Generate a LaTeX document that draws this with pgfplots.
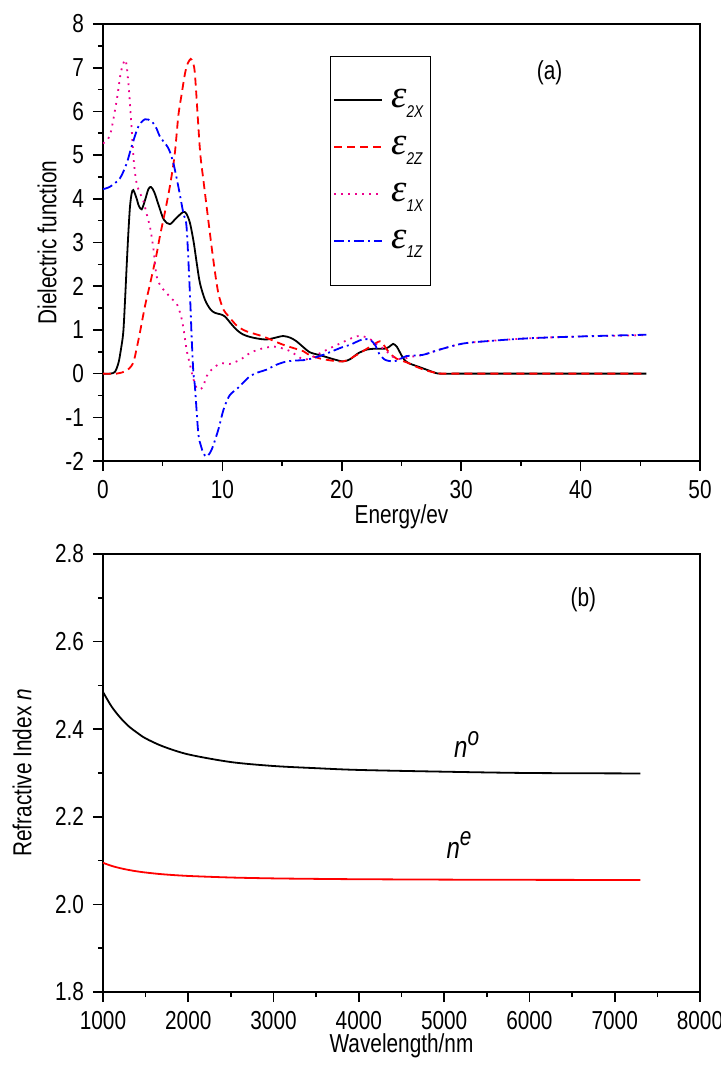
\documentclass[border=0pt]{standalone}
\usepackage{fontspec}
\setmainfont{Liberation Sans}[FakeStretch=0.8]
\newfontfamily\epsfont{Liberation Serif}
\usepackage{pgfplots}
\pgfplotsset{compat=1.18}
\newcommand{\eps}[1]{\hspace{2pt}{\epsfont\fontsize{19.5}{21}\selectfont\itshape ε}\raisebox{-0.7ex}{\fontsize{8.5}{9}\selectfont\itshape #1}}
\begin{document}
\fontsize{13}{15}\selectfont
\begin{tikzpicture}
\path[use as bounding box] (-51.5pt,12pt) rectangle (308.5pt,-521pt);
\pgfplotsset{
  myaxis/.style={
    scale only axis,
    width=298.5pt,
    axis line style={line width=1pt},
    tick style={line width=0.8pt,black},
    tick align=outside,
    major tick length=5pt,
    minor tick length=2.5pt,
    xtick pos=lower, ytick pos=left,
    /pgf/number format/assume math mode=true,
    /pgf/number format/1000 sep={},
    scaled ticks=false,
    tick label style={font=\fontsize{13}{15}\selectfont},
    label style={font=\fontsize{13}{15}\selectfont},
    clip=true,
  }
}
\begin{axis}[myaxis,
  at={(0,0)}, anchor=north west,
  height=218.5pt,
  xmin=0, xmax=50, ymin=-2, ymax=8,
  xtick={0,10,...,50}, minor x tick num=1,
  ytick={-2,-1,...,8}, minor y tick num=1,
  xlabel={Energy/ev}, ylabel={Dielectric function},
  every axis x label/.style={at={(axis description cs:0.5,-0.127)},anchor=center},
  every axis y label/.style={at={(axis description cs:-0.0938,0.5)},rotate=90,anchor=center},
  legend style={at={(0.380,0.927)}, anchor=north west,
     inner xsep=1.5pt, inner ysep=14.5pt, row sep=8.3pt, font=\fontsize{13}{15}\selectfont,
     legend cell align=left},
  legend image code/.code={\draw[line width=1pt,#1] (0pt,0pt) -- (24pt,0pt);},
]
\addplot[color=black, line width=0.9pt, smooth] coordinates {
(0,0)(0.6,0)(1.0,0.04)(1.3,0.25)(1.5,0.55)(1.7,0.95)(1.85,1.7)(1.98,2.45)(2.12,3.2)(2.26,3.82)(2.4,4.12)(2.54,4.2)
(2.8,4.02)(3.0,3.84)(3.24,3.76)(3.5,3.95)(3.8,4.22)(4.02,4.27)(4.3,4.15)(4.7,3.82)(5.1,3.52)(5.6,3.42)
(6.1,3.55)(6.73,3.7)(7.0,3.65)(7.29,3.44)(7.6,3.0)(7.85,2.53)(8.12,2.07)(8.54,1.69)(9.0,1.47)(9.38,1.39)
(9.8,1.36)(10.2,1.31)(10.7,1.15)(11.2,1.0)(11.7,0.9)(12.3,0.84)(13.0,0.8)(13.7,0.78)(14.4,0.82)(15.1,0.86)
(15.7,0.82)(16.2,0.74)(16.8,0.6)(17.3,0.49)(17.9,0.44)(18.45,0.40)(19.3,0.33)(20.1,0.28)(20.7,0.33)
(21.4,0.47)(22.1,0.55)(22.8,0.57)(23.6,0.57)(24.0,0.62)(24.3,0.68)(24.6,0.62)(24.9,0.47)(25.2,0.33)
(25.6,0.24)(26.5,0.15)(27.2,0.08)(27.7,0.03)(28.2,0.0)(30,0)(35,0)(40,0)(45.5,0)
};
\addlegendentry{\eps{2X}}
\addplot[color=red, line width=0.9pt, dash pattern=on 4pt off 2.5pt, smooth] coordinates {
(0,0)(1.15,0)(1.84,0.05)(2.2,0.12)(2.54,0.25)(2.8,0.55)(3.1,0.95)(3.52,1.55)(3.94,2.05)(4.5,2.75)(4.77,3.15)
(5.19,3.7)(5.61,4.3)(6.0,5.0)(6.31,5.9)(6.59,6.4)(6.87,6.87)(7.1,7.1)(7.35,7.2)(7.5,7.12)(7.7,6.85)
(8.12,5.12)(8.4,4.45)(8.68,3.82)(9.24,2.6)(9.66,1.84)(10.1,1.46)(10.5,1.32)(11.2,1.1)(12.0,0.97)
(13.4,0.85)(15.1,0.66)(16.8,0.51)(17.3,0.42)(18.45,0.33)(20.1,0.28)(21.2,0.42)(22.4,0.62)(23.2,0.74)
(23.6,0.62)(24.0,0.47)(24.6,0.34)(25.5,0.25)(26.3,0.15)(27.1,0.07)(28.0,0.01)(28.5,0)(35,0)(45.5,0)
};
\addlegendentry{\eps{2Z}}
\addplot[color=magenta, line width=0.9pt, dash pattern=on 0.9pt off 2.6pt, smooth] coordinates {
(0,5.27)(0.59,5.46)(1.15,6.26)(1.5,6.9)(1.84,7.18)(2.0,7.0)(2.2,6.4)(2.4,5.6)(2.6,4.8)(2.82,4.35)(3.1,4.13)
(3.38,3.95)(3.66,3.65)(3.94,3.35)(4.2,2.9)(4.5,2.22)(4.9,1.98)(5.33,1.84)(5.8,1.7)(6.17,1.6)(6.5,1.35)
(6.73,1.05)(7.0,0.55)(7.29,0.2)(7.6,-0.15)(7.85,-0.33)(8.1,-0.36)(8.4,-0.29)(8.68,-0.06)(9.24,0.13)
(9.94,0.24)(10.6,0.22)(11.5,0.32)(12.3,0.47)(13.0,0.55)(13.4,0.58)(14.3,0.62)(15.0,0.58)(15.7,0.51)
(16.3,0.4)(16.8,0.32)(17.3,0.35)(17.9,0.43)(19.0,0.58)(20.4,0.76)(21.2,0.85)(21.7,0.86)(22.3,0.8)
(22.9,0.68)(23.6,0.55)(24.3,0.38)(25.0,0.33)(25.7,0.38)(26.8,0.43)(28.2,0.55)(30.2,0.69)(33.0,0.76)
(35.8,0.81)(39.9,0.85)(45.5,0.88)
};
\addlegendentry{\eps{1X}}
\addplot[color=blue, line width=0.9pt, dash pattern=on 5pt off 2pt on 1pt off 2pt, smooth] coordinates {
(0,4.22)(0.6,4.28)(1.42,4.47)(1.98,4.81)(2.4,5.2)(2.96,5.65)(3.52,5.82)(4.08,5.77)(4.5,5.6)(4.77,5.42)
(5.47,5.16)(5.89,4.82)(6.31,4.28)(6.73,3.67)(7.0,3.35)(7.29,1.77)(7.43,0.8)(7.57,0.02)(7.7,-0.3)
(7.98,-1.36)(8.2,-1.65)(8.4,-1.81)(8.68,-1.9)(9.1,-1.74)(9.66,-1.28)(10.1,-0.82)(10.6,-0.5)(11.3,-0.33)
(11.7,-0.22)(12.3,-0.06)(13.0,0.03)(13.7,0.09)(14.5,0.2)(15.4,0.28)(16.2,0.3)(17.1,0.32)(18.45,0.43)
(19.0,0.49)(20.0,0.6)(20.7,0.66)(21.5,0.76)(21.9,0.79)(22.4,0.77)(22.8,0.65)(23.1,0.47)(23.6,0.32)
(24.3,0.28)(24.8,0.32)(25.4,0.40)(26.8,0.43)(28.2,0.55)(30.2,0.69)(33.0,0.76)(35.8,0.81)(39.9,0.85)(45.5,0.89)
};
\addlegendentry{\eps{1Z}}
\node at (axis cs:37.4,6.88) {(a)};
\end{axis}
\begin{axis}[myaxis,
  at={(0,-265pt)}, anchor=north west,
  height=219pt,
  xmin=1000, xmax=8000, ymin=1.8, ymax=2.8,
  xtick={1000,2000,...,8000}, minor x tick num=1,
  ytick={1.8,2.0,...,2.8}, minor y tick num=1,
  yticklabel style={/pgf/number format/.cd, fixed, fixed zerofill, precision=1},
  xlabel={Wavelength/nm}, ylabel={Refractive Index \textit{n}},
  every axis x label/.style={at={(axis description cs:0.5,-0.122)},anchor=center},
  every axis y label/.style={at={(axis description cs:-0.1357,0.5)},rotate=90,anchor=center},
]
\addplot[color=black, line width=0.9pt, smooth] coordinates {
(1000,2.485)(1100,2.452)(1200,2.427)(1300,2.407)(1400,2.392)(1500,2.379)(1700,2.361)(2000,2.3425)
(2500,2.325)(3000,2.316)(3500,2.311)(4000,2.307)(5000,2.303)(6000,2.300)(7300,2.299)
};
\addplot[color=red, line width=0.9pt, smooth] coordinates {
(1000,2.095)(1100,2.088)(1200,2.0828)(1300,2.0787)(1400,2.0754)(1500,2.0728)(1700,2.0688)(2000,2.065)
(2500,2.0614)(3000,2.0594)(3500,2.0583)(4000,2.0575)(5000,2.0566)(6000,2.0561)(7300,2.0558)
};
\node at (axis cs:6632,2.695) {(b)};
\node at (axis cs:5264,2.365) {\fontsize{15}{16}\selectfont\itshape n\raisebox{0.8ex}{\fontsize{13}{14}\selectfont o}};
\node at (axis cs:5174,2.136) {\fontsize{15}{16}\selectfont\itshape n\raisebox{0.8ex}{\fontsize{13}{14}\selectfont e}};
\end{axis}
\end{tikzpicture}
\end{document}
